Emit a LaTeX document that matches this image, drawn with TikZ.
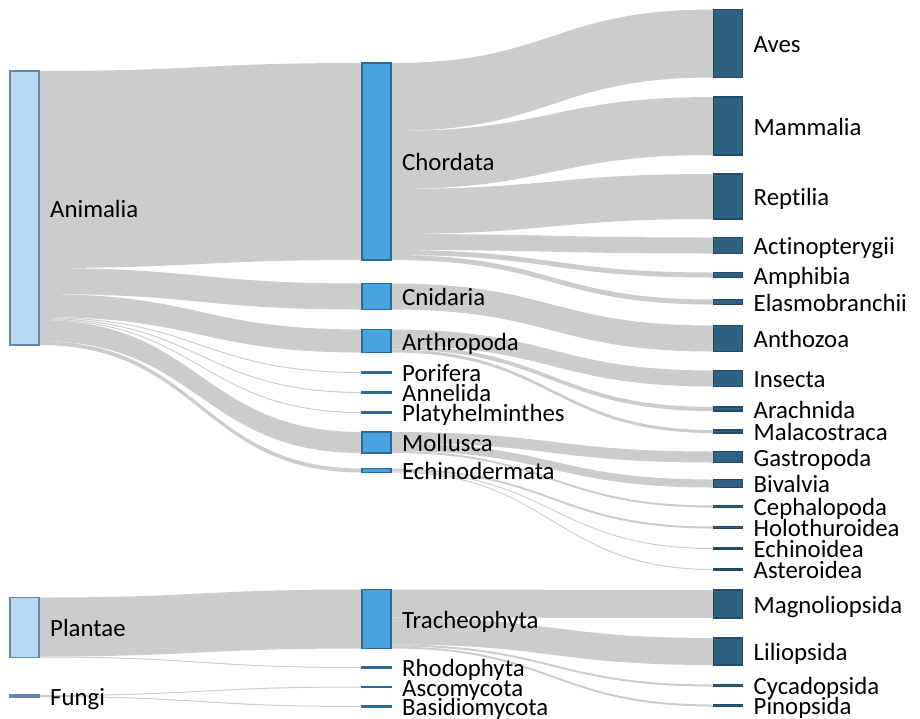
\documentclass[tikz,border=0pt]{standalone}
\usepackage{fontspec}
\setmainfont{Carlito}[Ligatures=NoCommon]
\usetikzlibrary{positioning,calc,backgrounds}

\definecolor{kingdomfill}{HTML}{B5D9F2}
\definecolor{kingdomline}{HTML}{6289AA}
\definecolor{phylumfill}{HTML}{4AA2DF}
\definecolor{phylumline}{HTML}{2C6A98}
\definecolor{classfill}{HTML}{2F6183}
\definecolor{classline}{HTML}{224A66}
\definecolor{bandgray}{HTML}{CCCCCC}

\tikzset{
	box/.style={draw, line width=1.2pt, minimum width=29, inner sep=0pt, outer sep=0pt, anchor=north west},
	kingdom/.style={box, draw=kingdomline, fill=kingdomfill},
	phylum/.style={box, draw=phylumline, fill=phylumfill},
	classbox/.style={box, draw=classline, fill=classfill},
	lbl/.style={inner sep=0pt, font=\fontsize{24.8}{28}\selectfont, text height=16pt, text depth=4pt, yshift=-3pt},
	band/.style={fill=bandgray},
}

% source, offset at source, target, offset at target, width
\newcommand{\sankeyflow}[5]{%
	\fill[band] let \p1=($(#1.north east)+(0,#2)$), \p2=($(#3.north west)+(0,#4)$), \p3=($(\p1)!0.5!(\p2)$) in
		(\p1) .. controls (\x3,\y1) and (\x3,\y2) .. (\p2) -- (\x2,\y2-#5pt)
		.. controls (\x3,\y2-#5pt) and (\x3,\y1-#5pt) .. (\x1,\y1-#5pt) -- cycle;}

\begin{document}
\begin{tikzpicture}[x=1pt,y=-1pt]
		\useasboundingbox (0,0) rectangle (920,718);

		\node (ani)[kingdom, minimum height=274] at (10,71) {};
		\node (pla)[kingdom, minimum height=60] at (10,597.5) {};
		\node (fun)[kingdom, minimum height=2] at (10,695) {};

		\node (cho)[phylum, minimum height=197] at (362,63) {};
		\node (cni)[phylum, minimum height=26] at (362,283.5) {};
		\node (art)[phylum, minimum height=23] at (362,329.5) {};
		\node (por)[phylum, minimum height=1] at (362,372) {};
		\node (ann)[phylum, minimum height=1] at (362,392) {};
		\node (pht)[phylum, minimum height=1] at (362,412) {};
		\node (mol)[phylum, minimum height=21] at (362,432) {};
		\node (ech)[phylum, minimum height=4] at (362,468.5) {};
		\node (tra)[phylum, minimum height=59] at (362,589.5) {};
		\node (rho)[phylum, minimum height=1] at (362,667) {};
		\node (asc)[phylum, minimum height=1] at (362,686.5) {};
		\node (bas)[phylum, minimum height=1] at (362,706) {};

		\node (ave)[classbox, minimum height=68] at (713.5,9.5) {};
		\node (mam)[classbox, minimum height=58] at (713.5,97) {};
		\node (rep)[classbox, minimum height=45] at (713.5,174) {};
		\node (act)[classbox, minimum height=16] at (713.5,237.5) {};
		\node (amp)[classbox, minimum height=5] at (713.5,272.5) {};
		\node (ela)[classbox, minimum height=5] at (713.5,299.5) {};
		\node (ant)[classbox, minimum height=26] at (713.5,325.5) {};
		\node (ins)[classbox, minimum height=16] at (713.5,370.5) {};
		\node (ara)[classbox, minimum height=4] at (713.5,407) {};
		\node (mal)[classbox, minimum height=3] at (713.5,430) {};
		\node (gas)[classbox, minimum height=11] at (713.5,451.5) {};
		\node (biv)[classbox, minimum height=8] at (713.5,479.5) {};
		\node (cep)[classbox, minimum height=2] at (713.5,505.5) {};
		\node (hol)[classbox, minimum height=2] at (713.5,526.5) {};
		\node (ecn)[classbox, minimum height=1] at (713.5,548) {};
		\node (ast)[classbox, minimum height=1] at (713.5,569) {};
		\node (mag)[classbox, minimum height=28] at (713.5,590) {};
		\node (lil)[classbox, minimum height=27] at (713.5,638) {};
		\node (cyc)[classbox, minimum height=2] at (713.5,684.5) {};
		\node (pin)[classbox, minimum height=2] at (713.5,704.5) {};

		\begin{pgfonlayer}{background}
		\sankeyflow{ani}{0}{cho}{0}{197}
		\sankeyflow{ani}{197}{cni}{0}{26}
		\sankeyflow{ani}{223}{art}{0}{23}
		\sankeyflow{ani}{246}{por}{0}{1}
		\sankeyflow{ani}{247}{ann}{0}{1}
		\sankeyflow{ani}{248}{pht}{0}{1}
		\sankeyflow{ani}{249}{mol}{0}{21}
		\sankeyflow{ani}{270}{ech}{0}{4}
		\sankeyflow{pla}{0}{tra}{0}{59}
		\sankeyflow{pla}{59}{rho}{0}{1}
		\sankeyflow{fun}{0}{asc}{0}{1}
		\sankeyflow{fun}{1}{bas}{0}{1}

		\sankeyflow{cho}{0}{ave}{0}{68}
		\sankeyflow{cho}{68}{mam}{0}{58}
		\sankeyflow{cho}{126}{rep}{0}{45}
		\sankeyflow{cho}{171}{act}{0}{16}
		\sankeyflow{cho}{187}{amp}{0}{5}
		\sankeyflow{cho}{192}{ela}{0}{5}
		\sankeyflow{cni}{0}{ant}{0}{26}
		\sankeyflow{art}{0}{ins}{0}{16}
		\sankeyflow{art}{16}{ara}{0}{4}
		\sankeyflow{art}{20}{mal}{0}{3}
		\sankeyflow{mol}{0}{gas}{0}{11}
		\sankeyflow{mol}{11}{biv}{0}{8}
		\sankeyflow{mol}{19}{cep}{0}{2}
		\sankeyflow{ech}{0}{hol}{0}{2}
		\sankeyflow{ech}{2}{ecn}{0}{1}
		\sankeyflow{ech}{3}{ast}{0}{1}
		\sankeyflow{tra}{0}{mag}{0}{28}
		\sankeyflow{tra}{28}{lil}{0}{27}
		\sankeyflow{tra}{55}{cyc}{0}{2}
		\sankeyflow{tra}{57}{pin}{0}{2}
		\end{pgfonlayer}

		\node (ani-l)[lbl, right=11pt of ani] {Animalia};
		\node (pla-l)[lbl, right=11pt of pla] {Plantae};
		\node (fun-l)[lbl, right=11pt of fun] {Fungi};

		\node (cho-l)[lbl, right=11pt of cho] {Chordata};
		\node (cni-l)[lbl, right=11pt of cni] {Cnidaria};
		\node (art-l)[lbl, right=11pt of art] {Arthropoda};
		\node (por-l)[lbl, right=11pt of por] {Porifera};
		\node (ann-l)[lbl, right=11pt of ann] {Annelida};
		\node (pht-l)[lbl, right=11pt of pht] {Platyhelminthes};
		\node (mol-l)[lbl, right=11pt of mol] {Mollusca};
		\node (ech-l)[lbl, right=11pt of ech] {Echinodermata};
		\node (tra-l)[lbl, right=11pt of tra] {Tracheophyta};
		\node (rho-l)[lbl, right=11pt of rho] {Rhodophyta};
		\node (asc-l)[lbl, right=11pt of asc] {Ascomycota};
		\node (bas-l)[lbl, right=11pt of bas] {Basidiomycota};

		\node (ave-l)[lbl, right=11pt of ave] {Aves};
		\node (mam-l)[lbl, right=11pt of mam] {Mammalia};
		\node (rep-l)[lbl, right=11pt of rep] {Reptilia};
		\node (act-l)[lbl, right=11pt of act] {Actinopterygii};
		\node (amp-l)[lbl, right=11pt of amp] {Amphibia};
		\node (ela-l)[lbl, right=11pt of ela] {Elasmobranchii};
		\node (ant-l)[lbl, right=11pt of ant] {Anthozoa};
		\node (ins-l)[lbl, right=11pt of ins] {Insecta};
		\node (ara-l)[lbl, right=11pt of ara] {Arachnida};
		\node (mal-l)[lbl, right=11pt of mal] {Malacostraca};
		\node (gas-l)[lbl, right=11pt of gas] {Gastropoda};
		\node (biv-l)[lbl, right=11pt of biv] {Bivalvia};
		\node (cep-l)[lbl, right=11pt of cep] {Cephalopoda};
		\node (hol-l)[lbl, right=11pt of hol] {Holothuroidea};
		\node (ecn-l)[lbl, right=11pt of ecn] {Echinoidea};
		\node (ast-l)[lbl, right=11pt of ast] {Asteroidea};
		\node (mag-l)[lbl, right=11pt of mag] {Magnoliopsida};
		\node (lil-l)[lbl, right=11pt of lil] {Liliopsida};
		\node (cyc-l)[lbl, right=11pt of cyc] {Cycadopsida};
		\node (pin-l)[lbl, right=11pt of pin] {Pinopsida};
	\end{tikzpicture}
\end{document}
